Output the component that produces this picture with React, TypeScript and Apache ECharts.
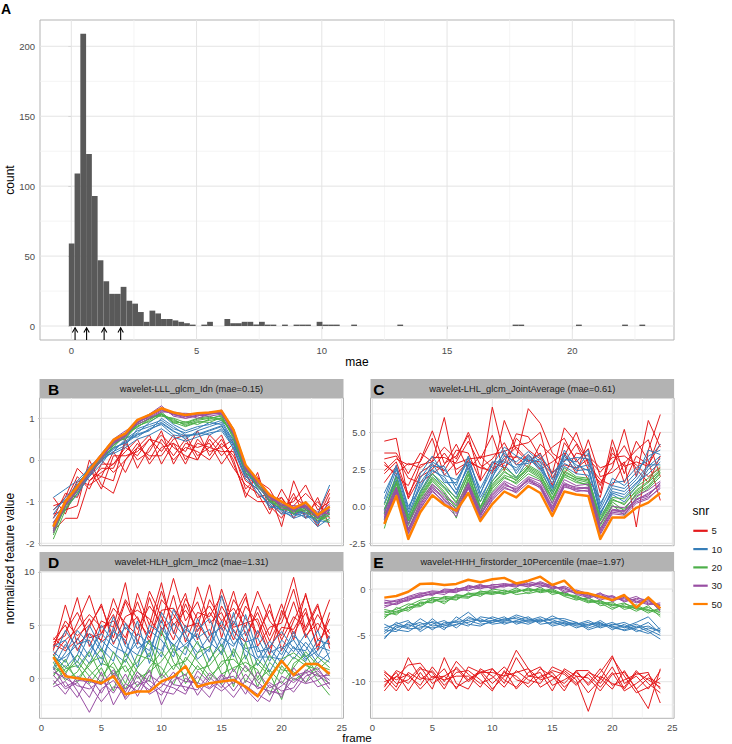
import React, { useEffect, useRef } from "react";
import * as echarts from "echarts";

const FONT = "'Liberation Sans', Arial, Helvetica, sans-serif";

// ---------- data ----------
const FRAMES = [1, 2, 3, 4, 5, 6, 7, 8, 9, 10, 11, 12, 13, 14, 15, 16, 17, 18, 19, 20, 21, 22, 23, 24];
const SNR_LEVELS = ["5", "10", "20", "30", "50"];
const SNR_COLORS = ["#E41A1C", "#377EB8", "#4DAF4A", "#984EA3", "#FF7F00"];

const HIST_MIN = -0.1;
const HIST_BIN_WIDTH = 0.2301;
const HIST_COUNTS = [
  59, 109, 209, 123, 93, 47, 32, 23, 23, 28,
  18, 16, 10, 3, 11, 9, 5, 5, 4, 3,
  2, 1, 0, 1, 3, 0, 0, 5, 2, 2,
  3, 3, 1, 3, 1, 1, 0, 1, 0, 1,
  1, 1, 0, 3, 1, 1, 1, 0, 0, 1,
  0, 0, 0, 0, 0, 0, 0, 1, 0, 0,
  0, 0, 0, 0, 0, 0, 0, 0, 0, 0,
  0, 0, 0, 0, 0, 0, 0, 1, 1, 0,
  0, 0, 0, 0, 0, 0, 0, 0, 1, 0,
  0, 0, 0, 0, 0, 0, 1, 0, 0, 1,
];
const MAE_MARKS = [0.15, 0.61, 1.31, 1.97];
const ARROW_FROM = -10;
const ARROW_TO = -1.3;

const HIST_X_TICKS = [0, 5, 10, 15, 20];
const HIST_X_MINOR = [2.5, 7.5, 12.5, 17.5, 22.5];
const HIST_Y_TICKS = [0, 50, 100, 150, 200];
const HIST_Y_MINOR = [25, 75, 125, 175];
const FRAME_TICKS = [0, 5, 10, 15, 20, 25];
const FRAME_MINOR = [2.5, 7.5, 12.5, 17.5, 22.5];

const PANEL_TAGS = ["B", "C", "D", "E"];
const PANEL_TITLES = [
  "wavelet-LLL_glcm_Idn (mae=0.15)",
  "wavelet-LHL_glcm_JointAverage (mae=0.61)",
  "wavelet-HLH_glcm_Imc2 (mae=1.31)",
  "wavelet-HHH_firstorder_10Percentile (mae=1.97)",
];
const B_Y_TICKS = [-2, -1, 0, 1];
const B_Y_MINOR = [-1.5, -0.5, 0.5];
const C_Y_TICKS = [-2.5, 0, 2.5, 5];
const C_Y_MINOR = [-1.25, 1.25, 3.75, 6.25];
const D_Y_TICKS = [0, 5, 10];
const D_Y_MINOR = [-2.5, 2.5, 7.5];
const E_Y_TICKS = [-10, -5, 0];
const E_Y_MINOR = [-12.5, -7.5, -2.5];

// Panel B: wavelet-LLL_glcm_Idn
const B_SNR5 = [
  [-1.2, -0.9, -0.2, -0.5, -0.3, -0.1, 0.3, 0.1, 0.5, 0.2, 0.6, 0.0, 0.4, 0.3, 0.2, 0.2, -0.7, -0.4, -1.0, -1.3, -0.8, -1.4, -0.9, -1.6],
  [-1.5, -1.2, -1.1, 0.0, -0.6, -0.8, 0.0, 0.4, 0.0, 0.5, 0.1, 0.5, 0.0, 0.6, 0.3, 0.5, -0.3, -0.9, -0.8, -1.6, -0.5, -1.2, -1.3, -0.7],
  [-0.9, -1.3, -0.6, -0.3, -0.4, 0.2, -0.3, 0.3, 0.6, -0.1, 0.4, 0.2, 0.7, 0.1, 0.5, 0.0, -0.9, -0.3, -1.2, -0.9, -1.4, -1.0, -1.5, -1.2],
  [-1.7, -1.4, -1.4, -0.5, -0.2, -0.2, 0.4, 0.0, 0.2, 0.7, -0.1, 0.4, 0.3, 0.4, -0.1, 0.3, -0.4, -0.6, -0.9, -1.1, -1.0, -0.6, -1.2, -1.0],
  [-1.1, -1.0, -0.4, -0.7, -0.1, -0.1, 0.2, 0.5, -0.1, 0.3, 0.4, -0.1, 0.5, 0.2, 0.3, -0.2, -0.6, -0.8, -1.3, -0.7, -1.2, -1.3, -1.0, -1.4],
  [-1.4, -0.8, -0.9, -0.2, -0.7, 0.1, 0.1, 0.2, 0.5, 0.4, 0.0, 0.3, 0.2, 0.0, 0.4, 0.1, -0.5, -0.7, -1.1, -1.4, -0.9, -1.1, -1.6, -0.9],
  [-1.6, -1.1, -0.5, -0.6, -0.4, -0.5, 0.5, -0.2, 0.3, 0.6, 0.3, 0.1, 0.0, 0.5, 0.1, 0.4, -0.2, -0.5, -0.7, -1.2, -1.1, -0.8, -1.1, -1.3],
  [-1.3, -1.2, -0.7, -0.4, 0.0, -0.3, 0.0, 0.3, 0.1, 0.1, 0.5, 0.6, 0.1, 0.3, 0.6, -0.1, -0.8, -1.0, -1.0, -0.9, -1.3, -1.2, -1.4, -0.8],
];
const B_SNR10 = [
  [-1.3, -0.9, -0.6, -0.3, 0.0, 0.2, 0.5, 0.7, 0.8, 0.9, 0.7, 0.5, 0.7, 0.8, 0.9, 0.4, -0.3, -0.6, -1.0, -1.2, -1.3, -1.2, -1.5, -1.3],
  [-1.5, -1.2, -0.8, -0.4, -0.1, 0.3, 0.4, 0.6, 0.7, 1.0, 0.8, 0.6, 0.6, 0.7, 0.8, 0.5, -0.2, -0.7, -1.1, -1.2, -1.4, -1.3, -1.6, -1.4],
  [-0.9, -0.7, -0.5, -0.2, 0.1, 0.15, 0.3, 0.5, 0.6, 0.75, 0.55, 0.45, 0.55, 0.65, 0.7, 0.3, -0.4, -0.5, -0.9, -1.0, -1.2, -1.4, -1.3, -0.6],
  [-1.7, -1.0, -0.7, -0.4, 0.05, 0.25, 0.45, 0.65, 0.9, 1.1, 0.85, 0.7, 0.8, 0.85, 0.95, 0.45, -0.35, -0.8, -1.05, -1.3, -1.25, -1.15, -1.55, -1.2],
  [-1.4, -1.05, -0.55, -0.25, -0.05, 0.35, 0.55, 0.55, 0.75, 0.85, 0.6, 0.55, 0.65, 0.6, 0.75, 0.35, -0.25, -0.65, -0.95, -1.25, -1.35, -1.25, -1.45, -1.5],
  [-1.6, -1.1, -0.85, -0.35, 0.0, 0.2, 0.35, 0.75, 0.85, 0.95, 0.75, 0.65, 0.75, 0.9, 0.85, 0.25, -0.45, -0.7, -1.15, -1.1, -1.3, -1.35, -1.4, -1.25],
  [-1.2, -0.95, -0.65, -0.15, 0.08, 0.28, 0.42, 0.62, 0.72, 0.88, 0.68, 0.58, 0.62, 0.72, 0.82, 0.38, -0.32, -0.58, -1.02, -1.18, -1.22, -1.28, -1.52, -1.1],
];
const B_SNR20 = [
  [-1.8, -1.1, -0.7, -0.25, 0.05, 0.4, 0.55, 0.85, 1.0, 1.1, 0.95, 0.85, 0.95, 1.0, 1.05, 0.6, -0.2, -0.6, -0.95, -1.1, -1.25, -1.1, -1.4, -1.25],
  [-1.9, -1.2, -0.8, -0.3, 0.0, 0.35, 0.6, 0.8, 0.95, 1.15, 0.9, 0.8, 0.9, 0.95, 1.0, 0.55, -0.25, -0.5, -1.0, -1.15, -1.2, -1.2, -1.35, -1.45],
  [-1.6, -1.0, -0.6, -0.35, 0.1, 0.45, 0.5, 0.9, 1.05, 1.05, 1.0, 0.9, 1.0, 1.05, 0.95, 0.65, -0.1, -0.65, -0.9, -1.05, -1.3, -1.05, -1.3, -1.2],
  [-1.7, -1.15, -0.75, -0.2, 0.05, 0.3, 0.62, 0.78, 1.0, 1.12, 0.88, 0.92, 0.85, 0.98, 1.08, 0.5, -0.3, -0.55, -0.85, -1.2, -1.15, -1.25, -1.45, -1.3],
  [-1.75, -1.05, -0.65, -0.28, 0.02, 0.42, 0.52, 0.82, 0.92, 1.08, 0.98, 0.82, 0.92, 0.9, 1.02, 0.58, -0.22, -0.58, -0.98, -1.12, -1.28, -1.15, -1.38, -1.5],
  [-1.65, -1.1, -0.72, -0.32, 0.12, 0.36, 0.58, 0.86, 0.98, 1.1, 0.92, 0.88, 0.98, 1.02, 0.98, 0.62, -0.18, -0.62, -0.92, -1.08, -1.22, -1.12, -1.42, -1.35],
];
const B_SNR30 = [
  [-1.7, -1.1, -0.7, -0.3, 0.1, 0.45, 0.6, 0.9, 1.05, 1.2, 1.1, 1.05, 1.1, 1.1, 1.15, 0.7, -0.15, -0.5, -0.9, -1.05, -1.2, -1.1, -1.35, -1.2],
  [-1.5, -1.05, -0.6, -0.25, 0.05, 0.4, 0.55, 0.95, 1.1, 1.3, 1.05, 1.0, 1.05, 1.15, 1.1, 0.65, -0.2, -0.55, -0.8, -1.1, -1.1, -1.15, -1.3, -1.05],
  [-1.75, -0.95, -0.7, -0.2, 0.15, 0.5, 0.7, 0.85, 1.0, 1.15, 1.15, 1.1, 1.0, 1.1, 1.2, 0.75, -0.1, -0.6, -0.95, -1.0, -1.25, -1.0, -1.4, -1.15],
  [-1.6, -1.1, -0.75, -0.35, 0.0, 0.42, 0.6, 0.9, 1.1, 1.25, 1.1, 1.0, 1.08, 1.05, 1.1, 0.68, -0.25, -0.45, -0.85, -1.15, -1.2, -1.05, -1.25, -1.3],
  [-1.65, -1.0, -0.65, -0.28, 0.1, 0.38, 0.65, 0.92, 1.02, 1.18, 1.12, 1.12, 1.1, 1.12, 1.15, 0.6, -0.18, -0.5, -0.9, -1.08, -1.1, -1.12, -1.38, -1.1],
  [-1.55, -1.05, -0.68, -0.3, 0.08, 0.44, 0.58, 0.88, 1.06, 1.22, 1.08, 1.04, 1.06, 1.1, 1.12, 0.7, -0.15, -0.52, -0.88, -1.02, -1.18, -1.08, -1.32, -1.18],
];
const B_SNR50 = [
  [-1.6, -1.0, -0.64, -0.24, 0.12, 0.48, 0.64, 0.96, 1.08, 1.24, 1.14, 1.08, 1.12, 1.14, 1.18, 0.72, -0.12, -0.48, -0.84, -1.0, -1.16, -1.02, -1.32, -1.12],
];

// Panel C: wavelet-LHL_glcm_JointAverage
const C_SNR5 = [
  [4.4, 4.6, 0.5, 2.0, 2.5, 3.6, 2.5, 3.0, 2.6, 2.4, 3.2, 4.0, 3.1, 3.0, 2.2, 5.3, 4.3, 3.0, 1.4, 3.6, 2.7, 3.0, 2.7, 5.0],
  [3.0, 2.0, 1.4, 3.1, 5.1, 2.9, 3.4, 4.8, 1.8, 6.7, 3.4, 3.3, 6.6, 5.6, 3.6, 3.0, 4.2, 2.5, 1.6, 2.6, 5.2, 2.0, 5.8, 4.0],
  [2.4, 3.2, 2.8, 3.0, 4.6, 2.1, 3.0, 4.4, 2.8, 2.2, 5.8, 3.8, 3.0, 3.6, 1.4, 4.3, 3.2, 1.8, 0.6, 4.0, 1.6, 3.4, 2.8, 4.2],
  [1.6, 2.7, 0.6, 2.8, 3.0, 6.0, 2.1, 3.1, 2.6, 3.2, 4.3, 2.8, 3.5, 2.5, 3.0, 3.6, 2.2, 4.5, 2.0, 2.3, 3.0, -1.4, 3.8, 6.2],
  [3.2, 3.4, 1.9, 1.6, 2.2, 2.8, 4.2, 2.5, 3.4, 2.6, 2.9, 4.9, 4.7, 3.3, 2.3, 2.8, 2.6, 3.2, 2.3, 3.3, 3.4, 2.8, 2.0, 2.6],
  [2.8, 2.2, 2.9, 2.6, 3.3, 3.3, 2.9, 3.2, 3.3, 3.5, 3.7, 4.1, 4.3, 5.0, 1.9, 3.4, 5.0, 2.8, 1.8, 1.4, 2.9, 3.8, 4.5, 2.0],
  [2.2, 3.0, 0.8, 2.3, 2.8, 2.4, 3.8, 3.6, 1.7, 3.0, 2.6, 3.4, 2.6, 4.2, 3.4, 2.2, 3.6, 3.4, 2.6, 2.9, 4.1, 2.5, 1.6, 3.4],
  [3.6, 3.6, 2.2, 3.6, 3.0, 4.0, 3.2, 5.0, 3.2, 4.8, 2.4, 4.6, 3.8, 3.2, 4.0, 4.6, 3.0, 3.9, 0.9, 4.5, 2.2, 4.4, 3.1, 0.4],
];
const C_SNR10 = [
  [-0.3, 2.0, -0.8, 1.4, 2.5, 1.8, 0.9, 2.8, 0.6, 2.0, 3.2, 2.4, 3.5, 2.8, 1.3, 2.9, 2.5, 3.6, -0.5, 1.0, 0.8, 1.6, 2.2, 3.0],
  [0.5, 2.8, -0.2, 1.9, 3.0, 2.5, 1.4, 3.3, 0.9, 2.5, 3.6, 2.8, 2.9, 3.2, 1.8, 3.5, 2.8, 2.4, -0.2, 1.4, 1.2, 2.0, 3.8, 3.5],
  [-0.8, 1.6, -1.2, 0.9, 2.2, 1.3, 0.6, 2.4, -0.5, 1.7, 2.8, 1.9, 3.2, 2.6, 0.8, 2.7, 2.2, 2.1, -0.9, 0.8, 0.3, 1.3, 2.5, 3.2],
  [0.2, 2.5, -0.4, 2.2, 3.4, 2.1, 1.8, 3.0, 1.2, 2.8, 4.0, 3.4, 3.0, 3.5, 2.2, 3.2, 3.0, 3.8, 0.2, 1.6, 1.7, 2.6, 3.1, 4.2],
  [-0.5, 2.2, -0.6, 1.6, 2.7, 2.7, 1.1, 2.6, 0.3, 2.2, 3.4, 3.0, 3.7, 3.0, 1.0, 3.8, 2.6, 2.8, -0.6, 1.2, 1.0, 1.8, 2.8, 2.8],
  [0.9, 2.6, 0.0, 1.2, 2.9, 1.6, 1.6, 3.4, 0.8, 3.0, 3.0, 2.6, 3.3, 2.4, 1.6, 3.1, 3.3, 3.2, 0.0, 1.9, 1.4, 2.3, 3.4, 3.8],
  [-0.2, 1.8, -1.0, 1.0, 2.4, 2.0, 0.8, 2.9, -0.1, 1.9, 3.8, 2.2, 3.4, 2.7, 1.2, 3.4, 2.4, 2.5, -0.4, 0.9, 0.6, 1.5, 2.7, 3.4],
];
const C_SNR20 = [
  [-1.5, 1.3, -1.3, 0.5, 1.7, 0.9, -0.8, 1.8, -0.4, 1.2, 2.0, 1.5, 2.2, 1.8, 0.5, 2.0, 1.6, 1.5, -1.3, 0.1, -0.6, 0.6, 1.2, 2.0],
  [-0.2, 1.6, -1.0, 0.7, 1.9, 1.2, 0.3, 2.1, 0.0, 1.4, 2.3, 1.9, 2.6, 2.1, 0.8, 2.3, 1.9, 1.7, -1.0, 0.4, 0.2, 1.0, 1.6, 2.4],
  [-0.9, 1.0, -1.6, 0.3, 1.5, 0.7, 0.0, 1.6, -0.6, 1.0, 1.9, 1.6, 2.4, 1.9, 0.2, 2.2, 1.7, 1.4, -1.5, 0.0, -0.2, 0.8, 1.3, 2.2],
  [0.1, 2.0, -0.7, 1.0, 2.2, 1.5, 0.5, 2.4, 0.3, 1.7, 2.6, 2.0, 2.8, 2.3, 1.0, 2.6, 2.0, 1.9, -0.7, 0.6, 0.5, 1.3, 1.9, 2.7],
  [-1.1, 1.5, -1.2, 0.6, 1.8, 1.0, -0.2, 1.9, -0.2, 1.3, 2.1, 1.8, 2.5, 2.0, 0.6, 2.1, 1.8, 1.6, -1.2, 0.3, -0.3, 0.9, 1.4, 2.3],
  [-0.5, 1.7, -0.9, 0.8, 2.0, 1.3, 0.2, 2.2, -0.1, 1.5, 2.4, 1.7, 2.7, 2.2, 0.4, 2.4, 1.9, 1.8, -0.9, 0.5, 0.1, 1.1, 1.7, 2.5],
];
const C_SNR30 = [
  [-1.0, 1.0, -1.8, -0.1, 1.0, 0.3, -0.5, 1.2, -0.8, 0.4, 1.3, 0.9, 1.6, 1.3, -0.3, 1.3, 1.1, 1.0, -1.8, -0.4, -0.5, 0.3, 0.6, 1.2],
  [-0.6, 1.2, -1.5, 0.2, 1.3, 0.6, -0.2, 1.5, -0.5, 0.7, 1.5, 1.1, 1.9, 1.5, 0.0, 1.6, 1.2, 1.3, -1.5, -0.2, -0.3, 0.5, 0.8, 1.5],
  [-0.8, 0.9, -1.9, -0.2, 1.1, 0.2, -0.7, 1.3, -0.9, 0.5, 1.2, 1.0, 1.8, 1.2, -0.4, 1.4, 1.0, 1.1, -1.9, -0.5, -0.6, 0.2, 0.5, 1.3],
  [-0.4, 1.3, -1.2, 0.4, 1.5, 0.8, 0.1, 1.6, -0.3, 0.9, 1.7, 1.3, 2.0, 1.7, 0.2, 1.8, 1.4, 1.5, -1.2, 0.0, -0.1, 0.7, 1.1, 1.7],
  [-0.9, 1.1, -1.6, 0.0, 1.2, 0.5, -0.4, 1.4, -0.6, 0.6, 1.4, 1.2, 1.7, 1.4, -0.1, 1.5, 1.3, 1.2, -1.6, -0.3, -0.4, 0.4, 0.9, 1.4],
  [-0.7, 1.0, -1.7, 0.1, 1.4, 0.4, -0.3, 1.3, -0.7, 0.8, 1.6, 1.0, 1.85, 1.35, -0.2, 1.45, 1.15, 1.25, -1.7, -0.25, -0.35, 0.45, 0.7, 1.6],
];
const C_SNR50 = [
  [-1.2, 0.7, -2.2, -0.4, 0.75, 0.1, -0.3, 0.9, -1.0, 0.15, 1.0, 0.6, 1.37, 0.9, -0.65, 1.0, 0.8, 0.7, -2.2, -0.75, -0.75, -0.1, 0.25, 0.9],
];

// Panel D: wavelet-HLH_glcm_Imc2
const D_SNR5 = [
  [3.8, 2.8, 5.2, 7.8, 4.2, 6.0, 3.2, 8.0, 5.0, 9.0, 4.2, 7.5, 5.6, 6.8, 4.8, 8.2, 4.0, 6.2, 3.5, 5.8, 9.5, 4.5, 6.8, 3.2],
  [3.0, 5.4, 4.0, 5.0, 6.8, 3.8, 7.2, 4.6, 6.8, 5.2, 9.4, 5.4, 7.2, 4.0, 8.4, 5.0, 7.6, 3.8, 7.0, 2.6, 5.4, 7.8, 4.4, 7.4],
  [2.6, 6.9, 3.2, 4.2, 3.6, 7.5, 4.6, 5.8, 3.4, 7.4, 6.0, 4.2, 8.6, 5.2, 6.2, 3.6, 6.8, 5.2, 2.2, 6.4, 4.2, 6.2, 3.0, 5.6],
  [3.4, 4.0, 7.6, 3.0, 5.4, 4.8, 9.0, 3.2, 7.6, 4.6, 5.6, 8.0, 3.6, 7.4, 5.4, 6.6, 4.8, 8.2, 5.4, 4.0, 7.2, 3.8, 6.0, 4.2],
  [2.2, 3.6, 4.6, 6.0, 4.8, 5.4, 3.8, 7.2, 4.2, 8.2, 5.0, 6.4, 4.8, 8.8, 3.8, 7.4, 5.6, 4.2, 6.4, 3.6, 5.8, 4.8, 7.0, 2.8],
  [3.6, 5.0, 2.6, 4.8, 7.0, 3.2, 5.8, 6.4, 5.6, 4.0, 7.8, 3.4, 6.2, 5.8, 7.8, 4.4, 3.4, 6.8, 4.0, 7.0, 3.6, 8.0, 3.6, 4.6],
  [2.8, 4.4, 6.2, 3.8, 4.2, 6.6, 5.2, 4.0, 8.2, 5.8, 3.6, 7.0, 4.4, 6.2, 4.6, 5.8, 8.0, 3.0, 4.8, 5.2, 8.4, 4.0, 5.2, 3.8],
  [3.2, 2.6, 3.6, 5.6, 3.4, 4.4, 7.4, 5.6, 3.8, 6.4, 6.6, 4.8, 5.2, 3.4, 6.8, 4.8, 5.2, 5.6, 2.8, 4.8, 4.6, 6.6, 2.6, 6.2],
];
const D_SNR10 = [
  [1.0, 3.2, 1.5, 4.2, 2.5, 5.8, 3.0, 2.2, 4.5, 3.6, 2.0, 5.0, 3.2, 2.5, 7.8, 4.0, 2.6, 1.8, 3.5, 2.2, 4.4, 2.0, 3.0, 2.6],
  [2.5, 1.5, 3.8, 2.0, 5.0, 3.4, 4.8, 3.6, 2.0, 6.2, 4.4, 2.8, 4.6, 5.6, 3.0, 5.4, 3.4, 3.8, 1.6, 3.6, 2.5, 4.2, 2.2, 1.5],
  [1.8, 4.5, 2.8, 1.4, 3.6, 2.4, 1.5, 4.2, 3.2, 2.6, 5.2, 3.8, 2.4, 4.0, 4.8, 2.0, 6.0, 2.5, 2.8, 1.4, 3.0, 1.6, 3.6, 3.2],
  [0.8, 2.4, 4.5, 3.2, 1.8, 4.4, 3.6, 1.0, 5.0, 4.2, 3.2, 2.2, 5.6, 3.4, 2.4, 6.2, 1.8, 4.5, 2.4, 3.0, 1.8, 3.4, 2.0, 4.0],
  [2.2, 1.0, 2.2, 5.0, 2.8, 1.6, 5.2, 2.8, 3.6, 2.0, 6.5, 4.2, 1.8, 2.8, 5.4, 3.2, 4.4, 1.2, 3.0, 4.4, 2.8, 2.6, 4.5, 1.8],
  [3.0, 3.6, 1.0, 2.6, 4.2, 3.0, 2.4, 5.4, 1.4, 4.8, 3.0, 4.6, 3.8, 4.6, 2.2, 4.6, 2.8, 3.0, 0.6, 2.8, 3.6, 1.8, 2.6, 3.8],
  [1.5, 2.0, 3.2, 3.6, 1.2, 4.8, 2.0, 3.4, 2.6, 5.5, 2.4, 3.2, 4.2, 1.6, 3.8, 3.0, 5.0, 2.0, 2.0, 1.8, 4.0, 3.0, 1.4, 2.4],
];
const D_SNR20 = [
  [1.0, 0.4, 2.2, 0.8, -0.4, 2.5, 0.6, 1.5, 3.6, 0.2, 2.8, 1.2, -0.5, 1.8, 3.2, 0.6, 2.2, -0.8, 1.5, 0.4, 2.0, 1.2, 0.8, 1.8],
  [0.2, 1.8, -0.4, 1.5, 2.0, 0.4, 1.2, -0.8, 1.0, 2.5, 0.8, 3.0, 1.6, 0.2, 1.2, 2.5, -0.4, 1.8, 0.5, -2.0, 1.4, 2.2, 0.3, -0.5],
  [-0.6, 0.9, 1.2, -0.5, 1.0, -1.2, 2.4, 0.6, -0.3, 4.5, 1.5, 0.2, 2.4, 3.0, 0.4, 1.0, 1.5, 0.8, -1.6, 1.2, -0.2, 0.6, 2.0, 1.0],
  [1.5, -0.2, 0.6, 2.5, 0.2, 1.5, -0.5, 2.2, 1.8, 1.0, -0.6, 2.0, 0.8, 1.2, 2.6, -0.8, 3.4, 0.0, 2.2, 0.8, 0.6, -0.4, 1.4, 0.2],
  [0.4, 1.2, 0.0, 1.2, 2.8, 0.0, 1.8, 0.0, 0.6, 1.6, 3.2, -0.5, 1.2, -0.2, 1.6, 1.8, 0.6, 1.4, 0.2, 1.8, 2.4, 1.5, -0.2, -1.6],
  [2.2, 0.6, 1.6, 0.2, 1.4, 1.0, -1.0, 1.0, 2.4, 0.0, 1.2, 1.6, 3.5, 0.8, -0.6, 2.8, 1.0, -0.2, 0.8, -0.5, 1.0, 2.5, 1.2, 0.8],
];
const D_SNR30 = [
  [-0.5, 0.5, -1.2, -3.2, -1.0, -0.2, -1.8, 0.3, -1.5, -0.8, 0.6, -1.2, 0.2, -0.9, 0.4, -0.5, 1.2, -0.3, -1.5, -0.7, 0.2, 0.6, -0.8, -0.4],
  [0.3, -1.0, -0.4, -1.8, 0.6, -2.5, -0.5, -1.2, 0.8, -2.5, -0.2, 0.4, -1.6, 0.1, -0.9, 0.9, -1.0, -2.2, -0.6, -1.8, 1.0, -0.4, 0.5, -1.0],
  [-0.8, -0.3, -1.8, 0.2, -1.4, 0.5, -2.0, -0.6, -0.2, -1.2, -1.5, 0.0, -0.6, -1.8, 0.3, -1.2, 0.4, -1.0, -0.4, -1.2, -0.9, 0.8, 0.2, 0.3],
  [0.6, 0.0, -0.7, -1.0, -0.2, -1.4, 0.4, -1.7, 0.3, -0.5, -0.9, -1.5, 0.7, -0.4, -1.2, -0.3, -0.7, -1.5, -2.2, 0.2, -0.4, 0.5, 1.0, -0.6],
  [-0.2, -1.5, 0.2, -0.6, -2.2, -0.8, -1.0, -0.3, -1.1, 0.4, -0.6, -0.8, -1.1, 0.5, -0.6, -1.8, -0.2, -0.8, -1.2, -1.5, 0.0, -0.5, -0.2, 0.6],
  [1.0, -0.8, -0.2, -0.3, -0.6, 0.8, -1.3, 0.6, -0.7, -1.6, 0.2, -0.3, -0.4, -1.0, -0.1, 0.2, -1.5, 0.6, -0.9, -0.3, -1.3, 0.2, 0.7, -0.2],
];
const D_SNR50 = [
  [2.0, 0.2, 0.0, -0.15, -0.47, 0.2, -1.5, -1.25, -1.25, -0.3, 0.15, 1.15, -0.8, -0.47, -0.3, -0.15, -0.8, -1.7, 0.0, 1.65, 0.3, 1.35, 1.35, 0.4],
];

// Panel E: wavelet-HHH_firstorder_10Percentile
const E_SNR5 = [
  [-10.0, -9.5, -8.2, -8.0, -9.6, -9.4, -8.6, -10.0, -9.0, -8.6, -10.2, -7.4, -9.4, -9.6, -8.8, -9.2, -10.4, -9.0, -9.6, -10.8, -8.8, -10.8, -9.6, -10.2],
  [-10.6, -8.8, -9.4, -10.4, -8.4, -10.0, -7.8, -9.2, -10.2, -9.6, -8.4, -9.8, -10.2, -8.6, -9.4, -10.2, -8.8, -10.4, -9.0, -7.2, -10.2, -9.4, -10.8, -8.8],
  [-9.2, -10.6, -7.4, -9.6, -9.8, -8.6, -10.8, -8.4, -9.0, -10.8, -9.4, -9.0, -8.6, -10.6, -9.8, -8.8, -9.8, -13.2, -9.4, -10.2, -10.6, -8.8, -10.2, -11.2],
  [-11.0, -9.4, -10.2, -8.6, -9.0, -10.8, -8.4, -9.8, -8.8, -10.2, -9.0, -9.4, -10.6, -9.4, -9.0, -10.6, -9.4, -9.6, -11.0, -9.2, -9.0, -10.8, -12.9, -8.6],
  [-9.0, -9.8, -9.2, -10.8, -9.4, -9.8, -9.4, -9.4, -10.6, -8.6, -9.8, -10.6, -9.0, -8.4, -10.4, -9.8, -9.0, -10.2, -8.6, -10.4, -9.8, -9.2, -9.0, -12.3],
  [-10.4, -9.0, -11.0, -9.0, -10.8, -7.4, -10.2, -10.8, -8.6, -9.4, -10.6, -8.8, -9.8, -10.2, -8.4, -9.0, -10.2, -9.2, -10.6, -9.0, -11.0, -10.2, -9.2, -10.8],
  [-9.6, -11.0, -9.0, -9.8, -8.8, -10.4, -9.0, -8.8, -9.8, -11.0, -8.8, -10.8, -9.4, -9.0, -11.0, -8.6, -9.4, -11.2, -9.8, -7.4, -9.4, -11.2, -10.6, -9.6],
  [-8.8, -10.2, -9.8, -8.4, -10.2, -9.4, -10.6, -9.8, -9.0, -9.0, -9.4, -6.6, -8.6, -9.8, -9.4, -11.0, -8.8, -8.8, -10.2, -8.4, -10.8, -9.0, -9.8, -10.6],
];
const E_SNR10 = [
  [-4.6, -3.6, -4.2, -3.2, -4.0, -3.8, -3.4, -2.5, -3.6, -3.0, -3.4, -2.8, -3.2, -3.6, -2.9, -3.5, -3.8, -3.4, -4.0, -3.6, -4.2, -3.8, -4.4, -5.0],
  [-5.2, -4.2, -3.8, -4.4, -3.2, -4.2, -3.8, -3.6, -3.2, -3.8, -3.6, -3.5, -3.8, -3.3, -3.8, -3.6, -4.2, -3.8, -3.6, -4.4, -3.8, -4.6, -4.2, -4.5],
  [-3.8, -4.4, -4.6, -3.8, -3.6, -4.4, -3.0, -3.8, -4.0, -3.4, -3.0, -3.8, -3.4, -3.0, -3.5, -4.0, -3.6, -4.2, -3.8, -4.0, -4.5, -4.2, -3.6, -4.8],
  [-4.2, -3.8, -3.4, -4.6, -3.8, -3.4, -4.2, -3.2, -3.4, -3.6, -3.2, -3.2, -3.6, -3.4, -3.3, -3.8, -3.9, -3.6, -4.2, -3.8, -4.0, -4.4, -4.8, -4.2],
  [-4.8, -4.0, -4.0, -3.6, -4.4, -3.6, -3.6, -4.0, -3.0, -3.2, -3.8, -3.4, -3.0, -3.8, -3.6, -3.4, -4.0, -4.0, -3.4, -4.2, -4.4, -4.0, -4.6, -5.4],
  [-4.4, -4.6, -3.6, -4.0, -4.2, -4.0, -3.5, -3.4, -3.8, -3.6, -3.3, -3.6, -3.3, -3.5, -3.2, -3.2, -3.6, -4.4, -4.0, -3.9, -3.6, -4.2, -4.0, -4.6],
  [-5.4, -3.9, -4.3, -4.2, -3.5, -3.9, -3.9, -3.0, -3.5, -3.4, -3.5, -3.0, -3.5, -3.2, -4.0, -3.7, -3.7, -3.9, -3.7, -4.1, -4.1, -3.6, -3.0, -4.4],
];
const E_SNR20 = [
  [-3.0, -2.4, -2.0, -1.6, -1.2, -1.4, -0.8, -0.6, -0.5, -0.3, -0.6, -0.1, -0.2, 0.0, -0.4, -0.5, -0.9, -1.2, -1.4, -1.8, -1.5, -2.2, -2.0, -2.6],
  [-2.6, -2.2, -1.6, -1.8, -0.9, -1.0, -1.2, -0.4, -0.8, 0.0, -0.2, -0.4, 0.1, -0.3, -0.1, -0.8, -1.2, -0.9, -1.8, -1.6, -2.0, -1.7, -2.4, -2.2],
  [-2.8, -2.6, -2.2, -1.4, -1.5, -0.8, -0.9, -1.0, -0.2, -0.5, -0.1, -0.6, -0.4, 0.2, -0.6, -0.3, -1.0, -1.5, -1.2, -2.0, -1.8, -2.4, -1.8, -3.0],
  [-2.4, -2.8, -1.8, -1.2, -1.0, -1.6, -0.6, -0.8, -0.6, -0.4, -0.4, 0.1, -0.5, -0.2, 0.0, -0.6, -0.7, -1.3, -1.6, -1.4, -2.2, -1.9, -2.6, -2.0],
  [-3.2, -2.0, -2.4, -1.5, -1.4, -0.9, -1.1, -0.5, -0.4, -0.6, -0.3, -0.2, -0.1, -0.1, -0.3, -0.4, -1.1, -1.0, -1.5, -2.2, -1.6, -2.0, -2.2, -2.8],
  [-2.2, -2.5, -2.0, -1.9, -1.1, -1.2, -0.7, -0.9, -0.3, -0.2, -0.5, -0.3, 0.0, -0.4, -0.2, -0.7, -0.8, -1.4, -1.3, -1.7, -1.9, -2.1, -2.3, -2.4],
];
const E_SNR30 = [
  [-1.5, -1.2, -0.9, -0.6, -0.3, -0.4, 0.0, 0.2, 0.3, 0.1, 0.5, 0.3, 0.6, 0.4, 0.2, 0.1, -0.3, -0.8, -0.5, -0.9, -1.2, -0.8, -1.5, -1.8],
  [-1.8, -1.6, -1.2, -0.8, -0.5, -0.2, -0.3, 0.0, 0.4, 0.3, 0.2, 0.7, 0.4, 0.6, 0.4, -0.2, -0.4, -0.6, -1.0, -0.7, -1.4, -1.0, -1.2, -2.2],
  [-1.2, -1.4, -0.8, -0.4, -0.7, 0.0, -0.1, 0.3, 0.0, 0.5, 0.4, 0.2, 0.8, 0.5, 0.0, 0.3, -0.2, -1.0, -0.6, -1.2, -0.9, -1.3, -1.7, -1.5],
  [-2.0, -1.5, -1.0, -0.9, -0.4, -0.6, 0.1, -0.2, 0.2, 0.4, 0.6, 0.4, 0.3, 0.8, 0.3, 0.0, -0.5, -0.7, -0.8, -1.1, -1.0, -1.5, -1.3, -2.0],
  [-1.6, -1.3, -1.3, -0.5, -0.2, -0.3, -0.4, 0.4, 0.1, 0.2, 0.3, 0.5, 0.5, 0.2, 0.5, -0.4, -0.1, -0.5, -1.2, -0.8, -1.3, -1.1, -1.6, -1.7],
  [-1.4, -1.7, -1.1, -0.7, -0.6, -0.1, -0.2, 0.1, 0.5, 0.0, 0.4, 0.6, 0.2, 0.7, 0.1, 0.2, -0.6, -0.9, -0.4, -1.4, -0.7, -1.4, -1.1, -2.4],
];
const E_SNR50 = [
  [-0.93, -0.75, -0.3, 0.55, 0.6, 0.43, 0.55, 1.0, 0.72, 1.05, 1.2, 0.6, 0.9, 1.33, 0.43, 0.9, -0.36, -0.47, -0.83, -1.2, -0.65, -2.0, -0.9, -2.1],
];

// ---------- layout ----------
const STYLE = {
  major: "#e4e4e4",
  minor: "#f1f1f1",
  border: "#b3b3b3",
  tick: "#b3b3b3",
  axisText: "#4d4d4d",
  strip: "#b3b3b3",
  bar: "#595959",
};

const HIST_GRID = { left: 40, top: 20, width: 634, height: 320 };
const HIST_X_RANGE = [-1.25, 24.06];
const HIST_Y_RANGE = [-10, 218.8];

const PANELS = [
  {
    grid: { left: 39.5, top: 398, width: 304, height: 147.7 },
    y: [-2.058, 1.487], yTicks: B_Y_TICKS, yMinor: B_Y_MINOR, fmt: (v: number) => String(v),
    showX: false, tagX: 48, data: [B_SNR5, B_SNR10, B_SNR20, B_SNR30, B_SNR50],
  },
  {
    grid: { left: 370.5, top: 398, width: 303.6, height: 147.7 },
    y: [-2.662, 7.318], yTicks: C_Y_TICKS, yMinor: C_Y_MINOR, fmt: (v: number) => v.toFixed(1),
    showX: false, tagX: 373.3, data: [C_SNR5, C_SNR10, C_SNR20, C_SNR30, C_SNR50],
  },
  {
    grid: { left: 39.5, top: 571, width: 304, height: 147.3 },
    y: [-3.763, 10.094], yTicks: D_Y_TICKS, yMinor: D_Y_MINOR, fmt: (v: number) => String(v),
    showX: true, tagX: 48, data: [D_SNR5, D_SNR10, D_SNR20, D_SNR30, D_SNR50],
  },
  {
    grid: { left: 370.5, top: 571, width: 303.6, height: 147.3 },
    y: [-13.95, 1.942], yTicks: E_Y_TICKS, yMinor: E_Y_MINOR, fmt: (v: number) => String(v),
    showX: true, tagX: 373.3, data: [E_SNR5, E_SNR10, E_SNR20, E_SNR30, E_SNR50],
  },
];
const FRAME_RANGE = [-0.15, 25.15];
const STRIP_H = 19;

function gridLineRender(params: any, api: any) {
  const cs = params.coordSys;
  const p = api.coord([api.value(0), api.value(1)]);
  const major = api.value(3) === 1;
  const style = { stroke: major ? STYLE.major : STYLE.minor, lineWidth: major ? 1 : 0.8 };
  if (api.value(2) === 0) {
    return { type: "line", silent: true, shape: { x1: p[0], y1: cs.y, x2: p[0], y2: cs.y + cs.height }, style };
  }
  return { type: "line", silent: true, shape: { x1: cs.x, y1: p[1], x2: cs.x + cs.width, y2: p[1] }, style };
}

function gridLineSeries(idx: number, xr: number[], yr: number[], xMaj: number[], xMin: number[], yMaj: number[], yMin: number[]) {
  const xm = (xr[0] + xr[1]) / 2;
  const ym = (yr[0] + yr[1]) / 2;
  const data: number[][] = [];
  xMin.forEach((v) => data.push([v, ym, 0, 0]));
  yMin.forEach((v) => data.push([xm, v, 1, 0]));
  xMaj.forEach((v) => data.push([v, ym, 0, 1]));
  yMaj.forEach((v) => data.push([xm, v, 1, 1]));
  return {
    type: "custom",
    xAxisIndex: idx,
    yAxisIndex: idx,
    silent: true,
    z: 1,
    encode: { x: 0, y: 1 },
    renderItem: gridLineRender,
    data,
  };
}

function axisLabel(values: number[], fmt: (v: number) => string, show = true, margin = 5) {
  return {
    show,
    customValues: values,
    formatter: (v: number) => fmt(v),
    fontSize: 9.5,
    fontFamily: FONT,
    color: STYLE.axisText,
    margin,
  };
}
function axisTick(values: number[], show = true) {
  return { show, customValues: values, length: 3, lineStyle: { color: STYLE.tick, width: 1 } };
}

function buildOption() {
  const grids: any[] = [HIST_GRID, ...PANELS.map((p) => p.grid)].map((g) => ({
    ...g,
    show: true,
    borderColor: STYLE.border,
    borderWidth: 1,
    backgroundColor: "#ffffff",
    containLabel: false,
  }));

  const xAxes: any[] = [
    {
      type: "value", gridIndex: 0, min: HIST_X_RANGE[0], max: HIST_X_RANGE[1],
      axisLine: { show: false }, splitLine: { show: false },
      axisTick: axisTick(HIST_X_TICKS), axisLabel: axisLabel(HIST_X_TICKS, (v) => String(v)),
    },
    ...PANELS.map((p, i) => ({
      type: "value", gridIndex: i + 1, min: FRAME_RANGE[0], max: FRAME_RANGE[1],
      axisLine: { show: false }, splitLine: { show: false },
      axisTick: axisTick(FRAME_TICKS, p.showX), axisLabel: axisLabel(FRAME_TICKS, (v) => String(v), p.showX, 3.8),
    })),
  ];
  const yAxes: any[] = [
    {
      type: "value", gridIndex: 0, min: HIST_Y_RANGE[0], max: HIST_Y_RANGE[1],
      axisLine: { show: false }, splitLine: { show: false },
      axisTick: axisTick(HIST_Y_TICKS), axisLabel: axisLabel(HIST_Y_TICKS, (v) => String(v)),
    },
    ...PANELS.map((p, i) => ({
      type: "value", gridIndex: i + 1, min: p.y[0], max: p.y[1],
      axisLine: { show: false }, splitLine: { show: false },
      axisTick: axisTick(p.yTicks), axisLabel: axisLabel(p.yTicks, p.fmt),
    })),
  ];

  const series: any[] = [];
  series.push(gridLineSeries(0, HIST_X_RANGE, HIST_Y_RANGE, HIST_X_TICKS, HIST_X_MINOR, HIST_Y_TICKS, HIST_Y_MINOR));
  PANELS.forEach((p, i) =>
    series.push(gridLineSeries(i + 1, FRAME_RANGE, p.y, FRAME_TICKS, FRAME_MINOR, p.yTicks, p.yMinor))
  );

  const histData = HIST_COUNTS.map((c, k) => [HIST_MIN + k * HIST_BIN_WIDTH, HIST_MIN + (k + 1) * HIST_BIN_WIDTH, c]).filter(
    (d) => d[2] > 0
  );
  series.push({
    type: "custom",
    xAxisIndex: 0,
    yAxisIndex: 0,
    silent: true,
    z: 2,
    encode: { x: [0, 1], y: 2 },
    data: histData,
    renderItem: (params: any, api: any) => {
      const a = api.coord([api.value(0), 0]);
      const b = api.coord([api.value(1), api.value(2)]);
      return {
        type: "rect",
        shape: { x: a[0], y: b[1], width: b[0] - a[0], height: a[1] - b[1] },
        style: { fill: STYLE.bar },
      };
    },
  });

  series.push({
    type: "custom",
    xAxisIndex: 0,
    yAxisIndex: 0,
    silent: true,
    z: 3,
    clip: false,
    encode: { x: 0, y: [1, 2] },
    data: MAE_MARKS.map((m) => [m, ARROW_FROM, ARROW_TO]),
    renderItem: (params: any, api: any) => {
      const base = api.coord([api.value(0), api.value(1)]);
      const tip = api.coord([api.value(0), api.value(2)]);
      return {
        type: "group",
        children: [
          { type: "line", shape: { x1: base[0], y1: base[1], x2: tip[0], y2: tip[1] }, style: { stroke: "#000", lineWidth: 1.1 } },
          {
            type: "polyline",
            shape: { points: [[tip[0] - 2.7, tip[1] + 4.6], [tip[0], tip[1]], [tip[0] + 2.7, tip[1] + 4.6]] },
            style: { stroke: "#000", lineWidth: 1.1, fill: null },
          },
        ],
      };
    },
  });

  PANELS.forEach((p, i) => {
    p.data.forEach((lines, s) => {
      lines.forEach((vals) => {
        series.push({
          type: "line",
          name: SNR_LEVELS[s],
          xAxisIndex: i + 1,
          yAxisIndex: i + 1,
          data: vals.map((v, j) => [FRAMES[j], v]),
          showSymbol: false,
          symbol: "none",
          silent: true,
          z: s === 4 ? 4 : 3,
          lineStyle: { color: SNR_COLORS[s], width: s === 4 ? 2.5 : 1.0, join: "round" },
        });
      });
    });
  });

  const graphic: any[] = [];
  const txt = (text: string, x: number, y: number, opts: any = {}) => ({
    type: "text",
    x,
    y,
    rotation: opts.rotation || 0,
    silent: true,
    z: 10,
    style: {
      text,
      x: 0,
      y: 0,
      fill: opts.fill || "#000",
      fontSize: opts.fontSize || 12,
      fontFamily: FONT,
      fontWeight: opts.fontWeight || "normal",
      textAlign: opts.align || "center",
      textVerticalAlign: "middle",
    },
  });

  graphic.push(txt("A", 1, 8.5, { fontSize: 14, fontWeight: "bold", align: "left" }));
  PANELS.forEach((p, i) => {
    const g = p.grid;
    const top = g.top - STRIP_H;
    graphic.push({
      type: "rect",
      silent: true,
      z: 9,
      shape: { x: g.left, y: top, width: g.width, height: STRIP_H },
      style: { fill: STYLE.strip },
    });
    graphic.push(txt(PANEL_TITLES[i], g.left + g.width / 2, top + STRIP_H / 2, { fontSize: 9.3, fill: "#1a1a1a" }));
    graphic.push(txt(PANEL_TAGS[i], p.tagX, top + STRIP_H / 2 + 0.8, { fontSize: 15.5, fontWeight: "bold", align: "left" }));
  });

  graphic.push(txt("count", 10, 180, { rotation: Math.PI / 2 }));
  graphic.push(txt("mae", 357, 361.5));
  graphic.push(txt("normalized feature value", 10, 558.5, { rotation: Math.PI / 2 }));
  graphic.push(txt("frame", 357, 738.4, { fontSize: 11.5 }));

  graphic.push(txt("snr", 692.5, 510.8, { align: "left", fontSize: 12 }));
  const LEG_Y0 = 530.8;
  const LEG_STEP = 18.3;
  SNR_LEVELS.forEach((lab, s) => {
    const y = LEG_Y0 + s * LEG_STEP;
    graphic.push({
      type: "line",
      silent: true,
      z: 10,
      shape: { x1: 693.3, y1: y, x2: 707.7, y2: y },
      style: { stroke: SNR_COLORS[s], lineWidth: 2.2 },
    });
    graphic.push(txt(lab, 711.5, y, { align: "left", fontSize: 9.5, fill: "#1a1a1a" }));
  });

  return {
    animation: false,
    backgroundColor: "#ffffff",
    textStyle: { fontFamily: FONT },
    grid: grids,
    xAxis: xAxes,
    yAxis: yAxes,
    series,
    graphic,
  };
}

export default function App() {
  const ref = useRef<HTMLDivElement>(null);
  useEffect(() => {
    document.body.style.margin = "0";
    if (!ref.current) return;
    const chart = echarts.init(ref.current, undefined, { renderer: "svg" });
    chart.setOption(buildOption() as any);
    return () => chart.dispose();
  }, []);
  return <div ref={ref} style={{ width: 732, height: 744, background: "#fff" }} />;
}
